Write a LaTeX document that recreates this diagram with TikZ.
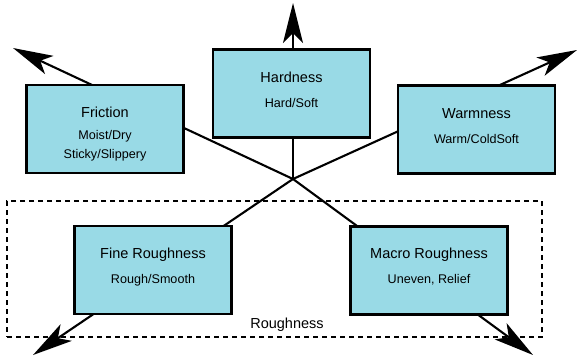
\documentclass[tikz,border=0pt]{standalone}
\usepackage{fontspec}
\setmainfont{Liberation Sans}
\usepackage{xcolor}
\usepackage{tikz}
\usetikzlibrary{arrows.meta}
\definecolor{facetcolor}{HTML}{99DAE6}
\tikzset{%
facet/.style={draw, rectangle, line width=2.6pt, minimum width=157pt, minimum height=88pt, fill=facetcolor},%
facettitle/.style={anchor=base, font=\fontsize{14.5pt}{17.4pt}\selectfont},%
facetsub/.style={anchor=base, align=center, font=\fontsize{12.6pt}{19pt}\selectfont},%
spoke/.style={line width=2.1pt, -{Stealth[length=40pt, width=20pt, inset=10pt]}},%
}

\begin{document}
\begin{tikzpicture}[x=1pt, y=-1pt]%
\useasboundingbox (0, 0) rectangle (577, 357);%
\coordinate (hub) at (293, 179);%
\coordinate (hardtip) at (293, 3);%
\coordinate (frictip) at (13, 48);%
\coordinate (warmtip) at (577, 50);%
\coordinate (finetip) at (33, 355);%
\coordinate (macrotip) at (533, 355);%
\draw[spoke] (hub) -- (hardtip);%
\draw[spoke] (hub) -- (frictip);%
\draw[spoke] (hub) -- (warmtip);%
\draw[spoke] (hub) -- (finetip);%
\draw[spoke] (hub) -- (macrotip);%
\node[draw, rectangle, dash pattern=on 5pt off 4pt, line width=2.4pt, minimum width=535pt, minimum height=136pt] (roughgroup) at (274.5, 269) {};%
\node[facettitle] (roughlabel) at (287, 328) {Roughness};%
\node[facet] (fric) at (105, 129) {};%
\node[facet] (hard) at (291.5, 93.5) {};%
\node[facet] (warm) at (476.5, 129.5) {};%
\node[facet] (fine) at (153, 270) {};%
\node[facet] (macro) at (429, 270.5) {};%
\node[facettitle] (frictitle) at (105, 117.5) {Friction};%
\node[facetsub] (fricsub) at (105, 158) {Moist/Dry\\Sticky/Slippery};%
\node[facettitle] (hardtitle) at (291.5, 82.5) {Hardness};%
\node[facetsub] (hardsub) at (291.5, 107) {Hard/Soft};%
\node[facettitle] (warmtitle) at (476.5, 118) {Warmness};%
\node[facetsub] (warmsub) at (476.5, 143) {Warm/ColdSoft};%
\node[facettitle] (finetitle) at (153, 258) {Fine Roughness};%
\node[facetsub] (finesub) at (153, 283) {Rough/Smooth};%
\node[facettitle] (macrotitle) at (429, 258.5) {Macro Roughness};%
\node[facetsub] (macrosub) at (429, 283) {Uneven, Relief};%
\end{tikzpicture}
\end{document}
